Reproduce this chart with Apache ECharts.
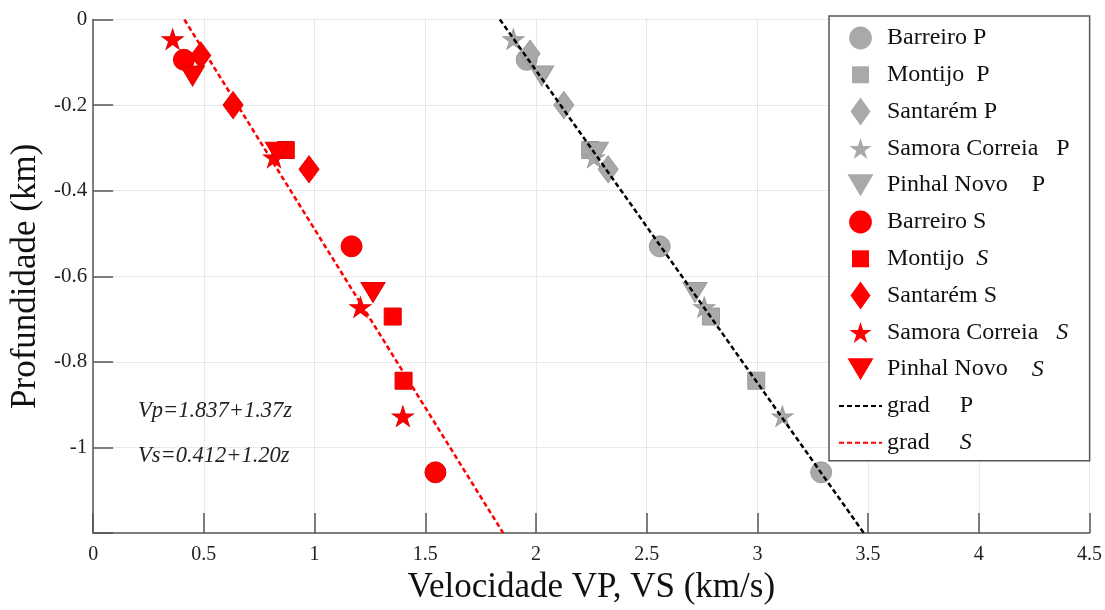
<!DOCTYPE html>
<html>
<head>
<meta charset="utf-8">
<script src="https://cdn.jsdelivr.net/npm/echarts@6/dist/echarts.min.js"></script>
<style>
  html, body { margin: 0; padding: 0; background: #fff; }
  #chart { width: 1105px; height: 610px; }
</style>
</head>
<body>
<div id="chart"></div>
<script>
// Axis ticks
const xTicks = [0, 0.5, 1, 1.5, 2, 2.5, 3, 3.5, 4, 4.5];
const yTicks = [0, -0.2, -0.4, -0.6, -0.8, -1, -1.2];

// P-wave velocity (km/s) vs depth (km), per site
const barreiroP = [[1.958, -0.094], [2.559, -0.530], [3.288, -1.058]];
const montijoP = [[2.245, -0.305], [2.790, -0.694], [2.995, -0.844]];
const santaremP = [[1.973, -0.080], [2.126, -0.200], [2.326, -0.350]];
const samoraP = [[1.898, -0.046], [2.262, -0.322], [2.760, -0.672], [3.113, -0.927]];
const pinhalP = [[2.026, -0.132], [2.273, -0.310], [2.718, -0.638]];

// S-wave velocity (km/s) vs depth (km), per site
const barreiroS = [[0.410, -0.094], [1.167, -0.530], [1.546, -1.058]];
const montijoS = [[0.870, -0.305], [1.353, -0.694], [1.402, -0.844]];
const santaremS = [[0.486, -0.084], [0.632, -0.200], [0.975, -0.350]];
const samoraS = [[0.359, -0.046], [0.817, -0.322], [1.207, -0.672], [1.399, -0.927]];
const pinhalS = [[0.449, -0.132], [0.832, -0.310], [1.264, -0.638]];

// Gradient lines: end points at z = 0 and z = 1.2 km
const gradP = [[1.837, 0], [3.481, -1.2]];
const gradS = [[0.412, 0], [1.852, -1.2]];

// Fitted equations shown on the chart
const eqLabels = ['Vp=1.837+1.37z', 'Vs=0.412+1.20z'];

const SERIF = '"Liberation Serif", "Times New Roman", serif';
const GRAY = '#a9a9a9';
const RED = '#ff0000';

// Marker shapes used in the plot
const STAR = 'path://M50,0 L61.23,34.55 L97.55,34.55 L68.17,55.9 L79.39,90.45 L50,69.1 L20.61,90.45 L31.83,55.9 L2.45,34.55 L38.77,34.55 Z';
const TRI_DOWN = 'path://M0,0 L24,0 L12,20 Z';
const DIAMOND = 'path://M10,0 L20,14 L10,28 L0,14 Z';

const shapes = [
  { symbol: 'circle', size: 21 },
  { symbol: 'rect', size: 17 },
  { symbol: DIAMOND, size: [20, 27] },
  { symbol: STAR, size: [21, 20] },
  { symbol: TRI_DOWN, size: [24, 20] }
];

// Legend icons: each drawn inside a 28x28 box (the leading moves fix the box)
const legendIcons = [
  'path://M0,0M28,28M2.6,14a11.4,11.4 0 1,0 22.8,0a11.4,11.4 0 1,0 -22.8,0z',
  'path://M0,0M28,28M5.5,5.5h17v17h-17z',
  'path://M0,0M28,28M14,0L24,14L14,28L4,14z',
  'path://M-10.5,-15.5M110.5,105.5M50,0 L61.23,34.55 L97.55,34.55 L68.17,55.9 L79.39,90.45 L50,69.1 L20.61,90.45 L31.83,55.9 L2.45,34.55 L38.77,34.55 Z',
  'path://M0,0M28,28M1,3h26l-13,22z'
];

const pNames = ['Barreiro P', 'Montijo  P', 'Santarém P', 'Samora Correia   P', 'Pinhal Novo    P'];
const sNames = ['Barreiro S', 'Montijo  S', 'Santarém S', 'Samora Correia   S', 'Pinhal Novo    S'];
const lineNames = ['grad     P', 'grad     S'];
const italicS = new Set(['Montijo  S', 'Samora Correia   S', 'Pinhal Novo    S', 'grad     S']);

const pData = [barreiroP, montijoP, santaremP, samoraP, pinhalP];
const sData = [barreiroS, montijoS, santaremS, samoraS, pinhalS];

function scatter(name, data, shape, color, border) {
  return {
    name: name,
    type: 'scatter',
    data: data,
    symbol: shape.symbol,
    symbolSize: shape.size,
    z: 3,
    itemStyle: { color: color, borderColor: border, borderWidth: 1, opacity: 1 },
    emphasis: { disabled: true }
  };
}

const series = [];
pNames.forEach((n, i) => series.push(scatter(n, pData[i], shapes[i], GRAY, '#9a9a9a')));
sNames.forEach((n, i) => series.push(scatter(n, sData[i], shapes[i], RED, '#e60000')));
series.push({
  name: lineNames[0], type: 'line', data: gradP, symbol: 'none', z: 5,
  lineStyle: { color: '#000', width: 2.5, type: [5, 3] }, itemStyle: { color: '#000' }
});
series.push({
  name: lineNames[1], type: 'line', data: gradS, symbol: 'none', z: 5,
  lineStyle: { color: RED, width: 2.5, type: [5, 3] }, itemStyle: { color: RED }
});

const legendData = pNames.map((n, i) => ({ name: n, icon: legendIcons[i] }))
  .concat(sNames.map((n, i) => ({ name: n, icon: legendIcons[i] })))
  .concat(lineNames.map(n => ({ name: n, itemStyle: { opacity: 0 } })));

const chart = echarts.init(document.getElementById('chart'));
chart.setOption({
  animation: false,
  backgroundColor: '#fff',
  grid: { left: 92, right: 14, top: 19.5, bottom: 71, containLabel: false },
  xAxis: {
    type: 'value', min: xTicks[0], max: xTicks[xTicks.length - 1], interval: 0.5,
    name: 'Velocidade VP, VS (km/s)', nameLocation: 'middle', nameGap: 34,
    nameTextStyle: { fontFamily: SERIF, fontSize: 35, color: '#111' },
    axisLine: { onZero: false, lineStyle: { color: '#555', width: 1.5 } },
    axisTick: { inside: true, length: 20, lineStyle: { color: '#555', width: 1.5 } },
    axisLabel: { fontFamily: SERIF, fontSize: 20, color: '#222', margin: 12,
      formatter: v => xTicks.includes(+v.toFixed(2)) ? String(+v.toFixed(2)) : '' },
    splitLine: { show: true, lineStyle: { color: '#d4d4d4', type: 'dotted', width: 1 } }
  },
  yAxis: {
    type: 'value', min: yTicks[yTicks.length - 1], max: yTicks[0], interval: 0.2,
    name: 'Profundidade (km)', nameLocation: 'middle', nameGap: 46,
    nameTextStyle: { fontFamily: SERIF, fontSize: 35, color: '#111' },
    axisLine: { show: true, onZero: false, lineStyle: { color: '#555', width: 1.5 } },
    axisTick: { show: true, inside: true, length: 20, lineStyle: { color: '#555', width: 1.5 } },
    axisLabel: { fontFamily: SERIF, fontSize: 21, color: '#222', margin: 6,
      formatter: v => {
        const r = +v.toFixed(2);
        return (r === -1.2) ? '' : String(r);
      } },
    splitLine: { show: true, lineStyle: { color: '#d4d4d4', type: 'dotted', width: 1 } }
  },
  legend: {
    orient: 'vertical', left: 829, top: 16,
    padding: [8, 20, 4, 9],
    backgroundColor: '#fff', borderColor: '#555', borderWidth: 1.5, borderRadius: 0,
    itemWidth: 43, itemHeight: 28, itemGap: 8.8,
    itemStyle: { borderWidth: 0 },
    selectedMode: false,
    data: legendData,
    formatter: name => {
      if (italicS.has(name)) {
        const body = name.slice(0, -1);
        return '{n|' + body + '}{i|S}';
      }
      return '{n|' + name + '}';
    },
    textStyle: {
      fontFamily: SERIF, fontSize: 24, lineHeight: 28, color: '#111',
      rich: {
        n: { fontFamily: SERIF, fontSize: 24, lineHeight: 28, color: '#111' },
        i: { fontFamily: SERIF, fontSize: 24, lineHeight: 28, color: '#111', fontStyle: 'italic' }
      }
    }
  },
  graphic: eqLabels.map((t, i) => ({
    type: 'text', left: 138, top: 400 + i * 45, z: 10,
    style: { text: t, font: 'italic 22.5px ' + SERIF, fill: '#222' }
  })),
  series: series
});
</script>
</body>
</html>
